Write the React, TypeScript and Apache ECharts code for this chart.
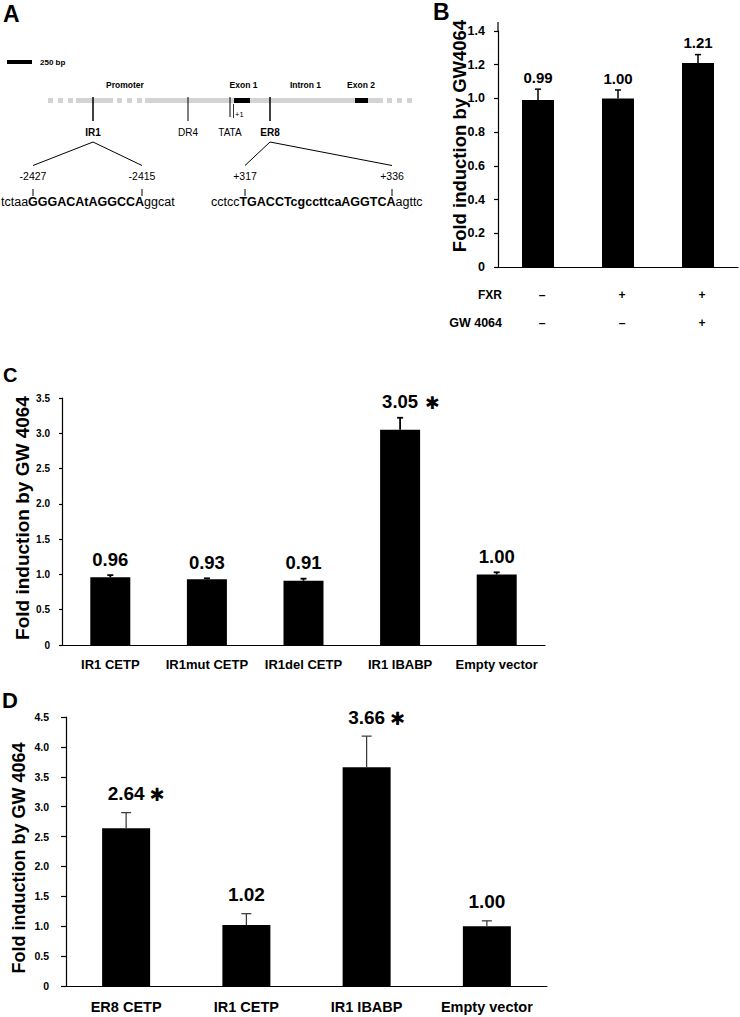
import React, { useEffect, useRef } from "react";
import * as echarts from "echarts";

// ---------- DATA ----------
// Panel B
const bFXR = ["–", "+", "+"];
const bGW = ["–", "–", "+"];
const bValues = [0.99, 1.0, 1.21];
const bErrors = [0.065, 0.05, 0.05];
const bSignificant = [false, false, false];

// Panel C
const cCategories = ["IR1 CETP", "IR1mut CETP", "IR1del CETP", "IR1 IBABP", "Empty vector"];
const cValues = [0.96, 0.93, 0.91, 3.05, 1.0];
const cErrors = [0.03, 0.015, 0.03, 0.17, 0.03];
const cSignificant = [false, false, false, true, false];

// Panel D
const dCategories = ["ER8 CETP", "IR1 CETP", "IR1 IBABP", "Empty vector"];
const dValues = [2.64, 1.02, 3.66, 1.0];
const dErrors = [0.26, 0.19, 0.52, 0.09];
const dSignificant = [true, false, true, false];

// Panel A texts
const aRegionLabels = ["Promoter", "Exon 1", "Intron 1", "Exon 2"];
const aSiteLabels = ["IR1", "DR4", "TATA", "ER8"];
const aPositions = ["-2427", "-2415", "+317", "+336"];

const FONT = '"Liberation Sans", Arial, Helvetica, sans-serif';
const yFmt = (v: number) => (v === 0 ? "0" : v.toFixed(1));

let measureCtx: CanvasRenderingContext2D | null = null;
function textWidth(t: string, size: number) {
  if (!measureCtx) measureCtx = document.createElement("canvas").getContext("2d");
  if (!measureCtx) return t.length * size * 0.55;
  measureCtx.font = `bold ${size}px ${FONT}`;
  return measureCtx.measureText(t).width;
}

function errSeries(
  idx: number,
  values: number[],
  errors: number[],
  sig: boolean[],
  o: { color: string; lw: number; cap: number; gap: number; size: number; starGap: number }
) {
  return {
    type: "custom",
    xAxisIndex: idx,
    yAxisIndex: idx,
    z: 5,
    clip: false,
    data: values.map((v, i) => [i, v, errors[i], sig[i] ? 1 : 0]),
    renderItem: (_p: any, api: any) => {
      const i = api.value(0);
      const v = api.value(1);
      const e = api.value(2);
      const s = api.value(3);
      const base = api.coord([i, v]);
      const top = api.coord([i, v + e]);
      const x = base[0];
      const label = v.toFixed(2);
      const children: any[] = [
        { type: "line", shape: { x1: x, y1: base[1], x2: x, y2: top[1] }, style: { stroke: o.color, lineWidth: o.lw } },
        {
          type: "line",
          shape: { x1: x - o.cap / 2, y1: top[1], x2: x + o.cap / 2, y2: top[1] },
          style: { stroke: o.color, lineWidth: o.lw },
        },
        {
          type: "text",
          x,
          y: top[1] - o.gap,
          style: {
            text: label,
            align: "center",
            verticalAlign: "middle",
            fontSize: o.size,
            fontWeight: "bold",
            fontFamily: FONT,
            fill: "#000",
          },
        },
      ];
      if (s) {
        children.push({
          type: "text",
          x: x + textWidth(label, o.size) / 2 + o.starGap,
          y: top[1] - o.gap + 1,
          style: {
            text: "✱",
            align: "left",
            verticalAlign: "middle",
            fontSize: o.size * 0.95,
            fontWeight: "bold",
            fontFamily: '"DejaVu Sans", sans-serif',
            fill: "#000",
          },
        });
      }
      return { type: "group", children };
    },
  };
}

function yAxisCfg(idx: number, max: number, size: number, margin: number, tick: number) {
  return {
    gridIndex: idx,
    type: "value",
    min: 0,
    max,
    interval: idx === 0 ? 0.2 : 0.5,
    axisLine: { show: true, lineStyle: { color: "#000", width: 1.2 } },
    axisTick: { show: true, length: tick, lineStyle: { color: "#000", width: 1.2 } },
    axisLabel: { formatter: yFmt, fontSize: size, fontWeight: "bold", fontFamily: FONT, color: "#000", margin },
    splitLine: { show: false },
  };
}

function seqText(x: number, y: number, pre: string, core: string, post: string) {
  return {
    type: "text",
    x,
    y,
    style: {
      text: `{n|${pre}}{b|${core}}{n|${post}}`,
      verticalAlign: "middle",
      rich: {
        n: { fontSize: 12.5, fontFamily: FONT, fontWeight: "normal", fill: "#000" },
        b: { fontSize: 12.5, fontFamily: FONT, fontWeight: "bold", fill: "#000" },
      },
    },
  };
}

function txt(x: number, y: number, text: string, size: number, bold: boolean, align = "center", extra: any = {}) {
  return {
    type: "text",
    x,
    y,
    ...extra,
    style: {
      text,
      align,
      verticalAlign: "middle",
      fontSize: size,
      fontWeight: bold ? "bold" : "normal",
      fontFamily: FONT,
      fill: "#000",
    },
  };
}

function ln(x1: number, y1: number, x2: number, y2: number, w = 1, c = "#000") {
  return { type: "line", shape: { x1, y1, x2, y2 }, style: { stroke: c, lineWidth: w } };
}

function rect(x: number, y: number, w: number, h: number, c: string) {
  return { type: "rect", shape: { x, y, width: w, height: h }, style: { fill: c } };
}

function panelA() {
  const g: any[] = [];
  const gray = "#d3d3d3";
  // scale bar
  g.push(rect(7, 60, 25, 4, "#000"));
  g.push(txt(40, 62, "250 bp", 8, true, "left"));
  // gene line (dashed ends)
  [48, 58, 68].forEach((x) => g.push(rect(x, 98, 5, 5, gray)));
  g.push(rect(76, 98, 37, 5, gray));
  [117, 127, 137].forEach((x) => g.push(rect(x, 98, 5, 5, gray)));
  g.push(rect(145, 98, 238, 5, gray));
  [387, 397, 407].forEach((x) => g.push(rect(x, 98, 5, 5, gray)));
  // exons
  g.push(rect(234, 98, 16, 5, "#000"));
  g.push(rect(355, 98, 13, 5, "#000"));
  // region labels
  const rx = [125, 243.5, 305.5, 361];
  aRegionLabels.forEach((t, i) => g.push(txt(rx[i], 84.5, t, 8.5, true)));
  // site markers
  g.push(ln(93, 97, 93, 121, 1.5));
  g.push(ln(188, 97, 188, 121, 1));
  g.push(ln(230, 97, 230, 117, 1));
  g.push(ln(270, 97, 270, 121, 1.5));
  g.push(ln(233.5, 104, 233.5, 118, 0.8));
  g.push(txt(235, 114, "+1", 7.5, false, "left"));
  const sx = [93, 188, 230, 270];
  const sb = [true, false, false, true];
  aSiteLabels.forEach((t, i) => g.push(txt(sx[i], 132.5, t, 10, sb[i])));
  // fans
  g.push(ln(93, 142, 33, 165.5, 1));
  g.push(ln(93, 142, 142, 165.5, 1));
  g.push(ln(270, 142, 245, 165.5, 1));
  g.push(ln(270, 142, 392, 165.5, 1));
  const px = [33, 142, 245, 392];
  aPositions.forEach((t, i) => {
    g.push(txt(px[i], 176, t, 10.5, false));
    g.push(ln(px[i], 189, px[i], 196, 1));
  });
  // sequences
  g.push(seqText(1, 202, "tctaa", "GGGACAtAGGCCA", "ggcat"));
  g.push(seqText(211, 202, "cctcc", "TGACCTcgccttcaAGGTCA", "agttc"));
  return g;
}

export default function App() {
  const ref = useRef<HTMLDivElement>(null);
  useEffect(() => {
    if (!ref.current) return;
    const chart = echarts.init(ref.current, null, { renderer: "svg" });
    const graphic: any[] = [
      ...panelA(),
      // panel letters
      txt(3, 13.5, "A", 23, true, "left"),
      txt(433, 11.7, "B", 23, true, "left"),
      txt(3, 375, "C", 20, true, "left"),
      txt(2, 700, "D", 22, true, "left"),
      // y axis titles
      txt(459, 136, "Fold induction by GW4064", 18.5, true, "center", { rotation: Math.PI / 2 }),
      txt(22, 518, "Fold induction by GW 4064", 19, true, "center", { rotation: Math.PI / 2 }),
      txt(19, 858, "Fold induction by GW 4064", 18, true, "center", { rotation: Math.PI / 2 }),
      // B axis extension above 1.4
      ln(498, 22, 498, 31, 1.2),
      // B row labels
      txt(502, 295, "FXR", 12, true, "right"),
      txt(502, 323, "GW 4064", 12.5, true, "right"),
    ];

    const option: any = {
      animation: false,
      backgroundColor: "#fff",
      textStyle: { fontFamily: FONT },
      grid: [
        { left: 498, top: 31, width: 240, height: 236 },
        { left: 62, top: 398, width: 483, height: 247 },
        { left: 66, top: 717, width: 481, height: 269 },
      ],
      xAxis: [
        {
          gridIndex: 0,
          type: "category",
          data: bFXR.map((f, i) => `${f}\n${bGW[i]}`),
          axisLine: { lineStyle: { color: "#000", width: 1.2 } },
          axisTick: { show: false },
          axisLabel: {
            interval: 0,
            fontSize: 12,
            fontWeight: "bold",
            fontFamily: FONT,
            color: "#000",
            lineHeight: 28,
            margin: 14,
            padding: [0, 0, 0, 8],
          },
        },
        {
          gridIndex: 1,
          type: "category",
          data: cCategories,
          axisLine: { lineStyle: { color: "#000", width: 1.2 } },
          axisTick: { show: false },
          axisLabel: { interval: 0, fontSize: 13, fontWeight: "bold", fontFamily: FONT, color: "#000", margin: 13 },
        },
        {
          gridIndex: 2,
          type: "category",
          data: dCategories,
          axisLine: { lineStyle: { color: "#000", width: 1.2 } },
          axisTick: { show: false },
          axisLabel: { interval: 0, fontSize: 14.5, fontWeight: "bold", fontFamily: FONT, color: "#000", margin: 13 },
        },
      ],
      yAxis: [yAxisCfg(0, 1.4, 12.5, 13, 4), yAxisCfg(1, 3.5, 10, 12, 3), yAxisCfg(2, 4.5, 10.5, 17, 5)],
      series: [
        { type: "bar", xAxisIndex: 0, yAxisIndex: 0, data: bValues, barWidth: 32, itemStyle: { color: "#000" } },
        errSeries(0, bValues, bErrors, bSignificant, { color: "#000", lw: 1.5, cap: 6, gap: 12, size: 15, starGap: 6 }),
        { type: "bar", xAxisIndex: 1, yAxisIndex: 1, data: cValues, barWidth: 40, itemStyle: { color: "#000" } },
        errSeries(1, cValues, cErrors, cSignificant, { color: "#000", lw: 1.8, cap: 6, gap: 16, size: 18.5, starGap: 7 }),
        { type: "bar", xAxisIndex: 2, yAxisIndex: 2, data: dValues, barWidth: 48, itemStyle: { color: "#000" } },
        errSeries(2, dValues, dErrors, dSignificant, { color: "#333", lw: 1.2, cap: 10, gap: 19, size: 19, starGap: 5 }),
      ],
      graphic,
    };
    chart.setOption(option);
    return () => chart.dispose();
  }, []);
  return (
    <div
      ref={ref}
      style={{ position: "absolute", left: 0, top: 0, width: 740, height: 1017, background: "#fff" }}
    />
  );
}
